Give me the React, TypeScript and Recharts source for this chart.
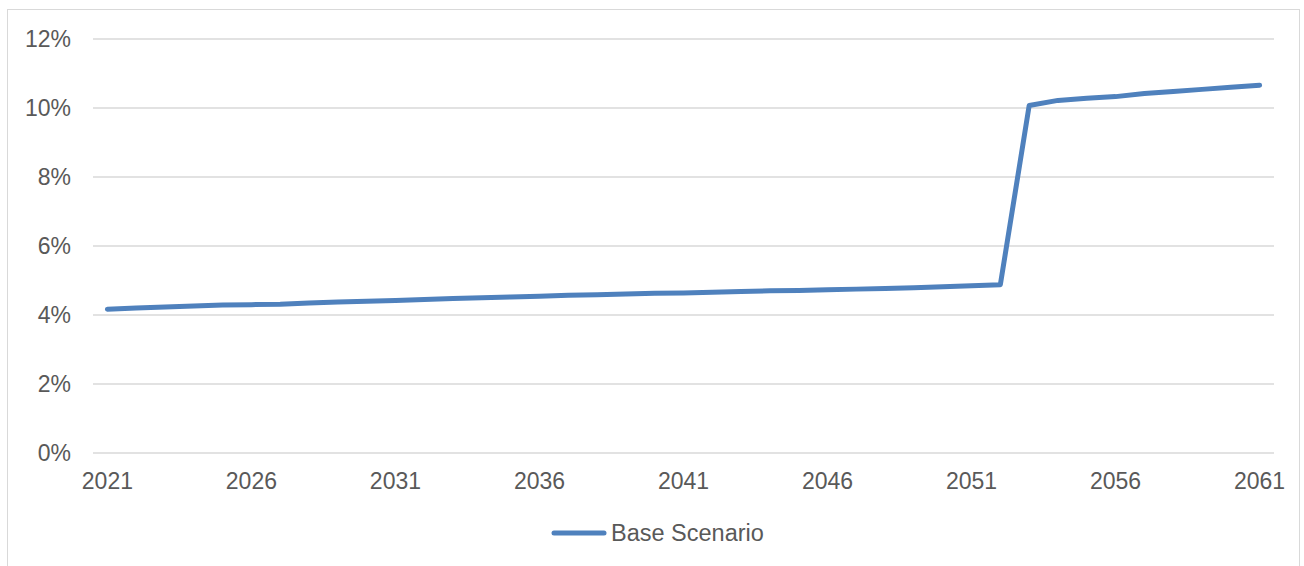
import React from 'react';
import { LineChart, Line, XAxis, YAxis, CartesianGrid, Legend } from 'recharts';

const years = [
  2021, 2022, 2023, 2024, 2025, 2026, 2027, 2028, 2029, 2030,
  2031, 2032, 2033, 2034, 2035, 2036, 2037, 2038, 2039, 2040,
  2041, 2042, 2043, 2044, 2045, 2046, 2047, 2048, 2049, 2050,
  2051, 2052, 2053, 2054, 2055, 2056, 2057, 2058, 2059, 2060, 2061,
];

// percent values
const baseScenario = [
  4.17, 4.2, 4.23, 4.26, 4.29, 4.3, 4.31, 4.35, 4.38, 4.4,
  4.42, 4.45, 4.48, 4.5, 4.52, 4.54, 4.57, 4.59, 4.61, 4.63,
  4.64, 4.66, 4.68, 4.7, 4.71, 4.73, 4.75, 4.77, 4.79, 4.82,
  4.85, 4.88, 10.07, 10.22, 10.28, 10.33, 10.42, 10.48, 10.54, 10.6, 10.66,
];

const yTicks = [0, 2, 4, 6, 8, 10, 12];

const seriesName = 'Base Scenario';

const BLUE = '#4f81bd';
const GRID = '#d9d9d9';
const TEXT = '#595959';
const FONT = '"Liberation Sans", Arial, sans-serif';

const chartData = years.map((y, i) => ({ year: String(y), value: baseScenario[i] }));

const LegendBox = () => (
  <div style={{ display: 'flex', alignItems: 'center', height: 40, fontFamily: FONT, fontSize: 23.5, color: TEXT }}>
    <svg width={56} height={10}>
      <line x1={3} y1={5} x2={53} y2={5} stroke={BLUE} strokeWidth={5} strokeLinecap="round" />
    </svg>
    <span style={{ marginLeft: 4 }}>{seriesName}</span>
  </div>
);

const App: React.FC = () => {
  return (
    <div
      style={{
        position: 'absolute',
        left: 7,
        top: 9,
        width: 1293,
        height: 557,
        boxSizing: 'border-box',
        border: `1px solid ${GRID}`,
        borderBottom: 'none',
        background: '#fff',
      }}
    >
      <LineChart
        width={1291}
        height={556}
        data={chartData}
        margin={{ top: 29, right: 25, bottom: 13, left: 0 }}
        style={{ fontFamily: FONT }}
      >
        <CartesianGrid vertical={false} stroke={GRID} strokeWidth={1.5} />
        <XAxis
          dataKey="year"
          interval={4}
          padding={{ left: 14.4, right: 14.4 }}
          axisLine={false}
          tickLine={false}
          tickSize={0}
          tickMargin={20}
          height={60}
          tick={{ fill: TEXT, fontSize: 23 }}
        />
        <YAxis
          domain={[0, 12]}
          ticks={yTicks}
          width={85}
          axisLine={false}
          tickLine={false}
          tickSize={0}
          tickMargin={22}
          tickFormatter={(v: number) => `${v}%`}
          tick={{ fill: TEXT, fontSize: 23 }}
        />
        <Legend
          verticalAlign="bottom"
          content={() => <LegendBox />}
          wrapperStyle={{ left: 543, width: 260 }}
        />
        <Line
          type="linear"
          dataKey="value"
          name={seriesName}
          stroke={BLUE}
          strokeWidth={5}
          strokeLinecap="round"
          strokeLinejoin="round"
          dot={false}
          activeDot={false}
          isAnimationActive={false}
        />
      </LineChart>
    </div>
  );
};

export default App;
